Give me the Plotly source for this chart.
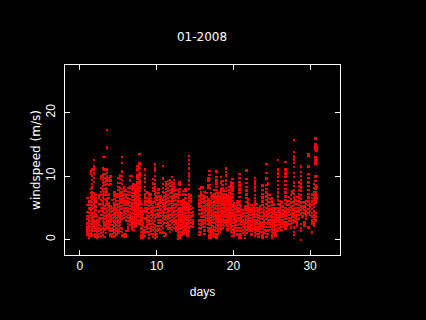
import plotly.graph_objects as go

title_text = "01-2008"
x_label = "days"
y_label = "windspeed (m/s)"
x_ticks = [0, 10, 20, 30]
y_ticks = [0, 10, 20]

# Column day positions and the wind speeds read in each column, one block per stretch of the month
days_a = [1.0,1.2,1.4,1.6,1.8,2.0,2.25,2.5,2.75,3.0,3.2,3.4,3.55,3.75,4.0,4.25,4.5,4.75,5.0,5.25,5.5,5.75,6.0,6.25,6.5,6.75,7.0,7.25,7.5,7.75,8.0]
vals_a = [
[0.7,1.1,1.6,2.0,2.5,3.2,3.7,4.3,5.4,6.5],
[0.3,0.8,1.3,1.7,2.1,2.7,3.1,3.6,4.2,4.9,5.4,6.0],
[0.6,1.0,1.5,2.0,2.4,2.9,3.4,3.9,4.4,4.9,5.4,6.0,6.6,7.3,8.0,10.3,10.7],
[0.5,0.9,1.4,1.9,2.4,2.8,3.3,3.8,4.2,4.8,5.3,5.9,6.4,6.9,7.4,8.2,8.7,9.4,10.0,11.0],
[0.7,1.3,1.8,2.2,2.7,3.1,3.6,4.3,5.0,5.6,6.2,6.7,7.3,9.1,9.7,10.4,11.0,11.5,12.5],
[0.4,0.8,1.3,1.9,2.4,2.9,3.5,4.0,4.6,5.2,6.0,6.5,7.0],
[0.3,0.7,1.2,1.7,2.1,2.6,3.1,3.6],
[0.4,0.9,1.3,1.8,2.3,2.8,3.3,4.4,5.6,6.6,7.0],
[0.5,1.0,1.6,2.1,3.3,3.9,4.5,5.0,5.6,6.2,7.0,7.5,8.1,9.6,9.9],
[0.7,1.2,1.7,2.9,3.4,3.9,4.4,4.9,5.5,6.0,6.6,7.2,7.6,8.0,8.4,8.9,9.4,9.9,10.3,11.2,13.0],
[0.4,1.6,2.2,2.7,3.2,3.7,4.2,4.8,5.3,6.4,7.0,7.5,8.0,8.6,9.1,9.7,10.3,11.0,13.0],
[1.0,1.7,2.2,2.7,3.2,3.7,4.2,4.7,5.6,6.2,7.1,7.6,8.1,8.6,9.2,9.7],
[1.9,2.4,2.9,3.4,3.9,4.4,5.0,5.5,6.0,6.5,7.0,7.5,8.0,8.7,9.3,9.9,10.5,11.0,14.5,17.3],
[1.6,2.0,2.5,3.0,3.5,4.0,4.6,5.2,5.7,6.5,7.1,8.6,9.2,9.7],
[0.5,0.9,1.3,1.8,2.3,2.8,3.3,3.8,4.3,4.8,5.3,8.7,9.3,9.9],
[0.4,0.9,1.3,1.8,2.3,2.9,3.4,3.9,4.5,5.0,6.2],
[0.5,1.0,1.5,2.1,2.6,3.1,3.6,4.1,4.7,5.2,5.7,6.4,6.9,7.4],
[0.8,1.3,1.8,2.3,2.8,3.4,3.9,4.4,4.9,5.5,6.1,6.7,7.1],
[1.1,1.6,2.1,2.6,3.1,3.6,4.1,4.6,5.1,5.6,6.1,6.7,7.2,7.8,8.3,8.9,9.7],
[1.3,1.8,2.3,2.8,3.3,3.8,4.3,4.8,5.3,5.8,6.3,6.9,7.4,8.1,8.9,9.5,10.1],
[0.6,1.2,1.7,3.2,3.7,4.2,4.8,5.3,5.8,6.3,6.9,7.4,8.0,8.7,9.4,10.0,10.7,12.1,13.0],
[0.4,0.8,3.4,3.9,4.4,5.0,5.5,6.0,6.5,7.1,7.6,8.2],
[0.4,0.8,1.3,3.0,3.5,4.0,4.5,5.0,5.5,6.0,6.6,7.1,7.7],
[1.4,1.9,2.4,2.9,3.4,3.9,4.4,4.9,5.5,6.0,6.5,7.0,7.5,8.1],
[2.3,2.8,3.3,3.8,4.3,4.8,5.3,5.9,6.4,7.0,7.5,8.2,9.3,10.0],
[1.7,2.2,2.7,3.2,3.7,4.2,4.7,5.2,5.7,6.2,6.8,7.3,7.9,8.4,10.0],
[1.5,2.0,2.5,3.0,3.5,4.0,4.6,5.1,5.7,6.2,6.8,7.3,8.2,8.7],
[2.2,2.7,3.2,3.8,4.3,4.8,5.3,5.8,6.4,6.9,7.4,7.9,8.5],
[2.6,3.1,3.6,4.1,4.7,5.2,5.7,6.2,6.8,7.3,7.9,8.4,9.0,9.6,10.1,11.6,11.0],
[2.5,3.0,3.5,4.0,4.5,5.0,5.5,6.0,6.5,7.0,7.6,8.2,8.8,9.3,9.9,10.4,11.3,12.0,13.5],
[0.3,0.7,1.2,1.7,2.3,2.8,3.3,3.8,4.4,5.0,5.6],
]

days_b = [8.25,8.5,8.75,9.0,9.25,9.5,9.8,10.0,10.25,10.5,10.8,11.0,11.25,11.5,11.75,12.0,12.25,12.5,12.75,13.0,13.25,13.5,13.75,14.0,14.25,14.5,14.7]
vals_b = [
[0.2,0.6,1.1,1.5,2.1,2.6,3.4,4.0,4.5],
[0.5,1.0,1.4,2.0,3.3,4.4,5.0,5.5,6.0,6.6,7.1,7.7,8.3,9.1,9.6,10.2,11.0],
[1.2,1.7,2.2,2.8,3.3,3.8,4.4,4.9,5.4,6.0,6.5,7.4],
[0.2,0.7,1.2,1.8,2.5,3.0,3.6,4.2,4.8,5.3,5.8,6.3,6.9,7.3],
[0.9,1.4,1.9,2.4,2.9,3.4,3.9,4.4,5.0,5.5,6.0,6.5,7.1],
[0.4,0.9,1.5,2.0,2.5,3.1,3.6,4.1,4.7,5.2,5.8,7.6,8.1,8.8,9.5],
[0.2,0.7,1.2,1.7,2.3,2.9,3.4,3.9,4.5,5.1,6.0,6.5,7.1,7.7,8.2,8.7,9.4,10.0,10.8,11.2,11.8],
[0.4,0.9,1.4,2.1,3.5,4.0,4.6,5.1,5.6,6.3,6.8,7.3],
[1.6,2.1,2.6,3.1,3.6,4.1,4.6,5.2,5.7,6.2,6.8,7.3,7.9],
[1.0,1.5,2.1,2.6,3.1,3.7,4.2,4.7,5.3,5.8,6.3,6.8],
[1.1,1.8,2.3,2.9,3.4,3.9,4.4,5.1,5.7,6.3,7.5,8.1,8.7,9.6,11.6],
[0.5,1.0,2.6,3.2,3.7,4.2,4.7,5.2,5.7,6.2,6.8,7.3],
[0.8,2.1,2.6,3.1,3.6,4.2,4.8,5.3,5.8,6.4,6.9,7.5,8.0,8.5,9.0],
[1.7,2.2,2.7,3.3,3.8,4.4,4.9,5.4,6.0,6.5,7.0,7.6,8.1,8.7,9.2],
[1.2,1.7,2.3,2.9,3.4,3.9,4.5,5.0,5.6,6.1,6.7,7.3,7.8,8.4,8.9,9.4],
[1.5,2.0,2.6,3.1,3.6,4.1,4.7,5.2,5.8,6.3,6.8,7.4,7.9,8.5,9.1,9.8],
[1.8,2.3,2.8,3.3,3.9,4.4,5.0,5.5,6.1,6.6,7.1,7.7,8.2,8.8,9.4],
[1.4,1.9,2.5,3.0,3.5,4.0,4.5,5.1,5.6,6.2,6.7,7.2,7.8],
[0.1,0.5,1.0,1.5,2.1,2.6,3.1,3.7,4.2,4.7,5.4,6.0,6.6,7.2,7.8],
[0.3,0.7,1.2,1.7,2.3,2.8,3.3,3.8,4.4,4.9,7.0,7.5,8.0,8.6,9.0],
[0.7,1.2,1.7,2.2,2.8,3.3,3.8,4.3,4.9,5.4,6.0],
[0.9,1.4,2.0,2.5,3.0,3.5,4.1,4.6,5.1,5.7,6.2,7.1,7.6],
[1.1,1.6,2.1,2.6,3.2,3.7,4.2,4.7,5.3,5.8,6.5,7.0,7.7,8.0],
[0.6,1.0,1.5,2.0,2.5,3.1,3.6,4.2,4.7,5.2,5.7],
[1.3,1.9,2.4,2.9,3.4,3.9,4.4,4.9,5.5,6.1,6.6,7.2,8.0,8.6,9.3,9.9,10.4,11.2,11.9,12.5,13.2],
[2.1,2.6,3.1,3.6,4.2,4.8,5.3,5.9,6.3,6.9],
[2.0,2.5,3.0,3.8,4.3,5.0],
]

days_c = [15.6,15.8,16.0,16.25,16.5,16.75,16.9,17.1,17.3,17.55,17.8,18.0,18.2,18.4,18.6,18.8,19.0,19.25,19.5,19.7,19.9,20.1,20.3,20.55,20.8,21.0,21.25,21.5,21.7,21.9,22.1,22.35,22.6,22.8]
vals_c = [
[0.7,1.2,1.8,2.4,3.0,4.0,4.6,5.2,5.7,6.2,6.8,8.0],
[1.1,1.7,2.3,2.9,3.5,4.0,4.6,5.2,5.8,6.3,6.9,7.4,8.3],
[2.0,2.5,3.0,3.5,4.1,4.7,5.3,5.9,6.4,6.9,8.2],
[0.9,1.4,2.0,2.6,3.1,3.6,4.2,4.7,5.3,5.8,6.3,6.8,7.5],
[2.4,2.9,3.4,3.9,4.5,5.0,5.5,6.1,6.7,7.3],
[1.3,1.8,2.4,3.0,3.5,4.1,4.6,5.2,5.8,6.3,8.2,8.6,9.3,9.7],
[0.3,0.7,1.2,1.7,2.3,2.8,3.4,3.9,4.4,5.0,5.6,6.1,8.1,8.6,9.5,10.2,10.8],
[0.3,0.8,1.3,1.8,2.4,2.9,3.4,3.9,4.4,4.9,5.5,6.0,6.7,7.3],
[0.6,1.1,1.6,2.1,2.6,3.1,3.6,4.1,4.6,5.2,5.8,6.4,6.9],
[0.4,0.9,1.4,2.0,2.6,3.2,3.8,4.3,4.9,5.4,6.0,6.6,7.2,7.8],
[0.3,0.8,1.3,1.8,2.3,2.8,3.3,3.8,4.3,4.8,5.3,5.8,6.3,6.8,7.3,7.8,8.3,8.8,9.3,9.8,10.7],
[0.9,1.4,1.9,2.5,3.0,3.5,4.0,4.5,5.0,5.5,6.0,6.5,7.0],
[1.2,1.7,2.3,2.8,3.3,3.8,4.3,4.8,5.3,5.8,6.3,6.8,7.3],
[1.5,2.0,2.5,3.0,3.5,3.9,4.4,4.9,5.4,5.9,6.4,6.9,7.4,7.9,9.0,9.8],
[1.8,2.3,2.8,3.2,3.7,4.1,4.5,5.0,5.4,5.8,6.2,6.6,7.1,7.6,8.1,8.6,9.2],
[2.1,2.6,3.0,3.5,3.9,4.3,4.7,5.1,5.5,5.9,6.3,6.7,7.2,7.7],
[2.3,2.7,3.1,3.5,3.9,4.3,4.7,5.1,5.5,5.9,6.3,6.7,7.1,7.6,8.1,8.7,9.3,10.1,10.6,11.2],
[1.6,2.1,2.6,3.0,3.4,3.8,4.2,4.6,5.0,5.4,5.8,6.2,6.6,7.0],
[2.4,2.8,3.2,3.6,4.0,4.4,4.8,5.2,5.6,6.0,6.4,6.8,7.3,7.8,8.3],
[1.2,1.7,2.2,2.7,3.2,3.7,4.2,4.7,5.2,5.7,6.2,6.7,7.2,7.9,8.5,9.0],
[0.5,1.0,1.6,2.1,2.6,3.1,3.6,4.1,4.6,5.1,5.6,6.1,6.6,7.2,7.7,8.2,8.8,9.5],
[0.6,1.1,1.6,2.1,2.6,3.2,3.7,4.2,4.7,5.2,5.7],
[1.3,1.8,2.3,2.8,3.3,3.8,4.3,4.8,5.3],
[0.8,1.3,1.8,2.3,2.9,3.4,3.9,4.4,4.9,5.5,6.0],
[0.3,0.8,1.3,1.8,2.4,2.9,3.4,3.9,4.4,5.0,5.5,6.1,6.7,7.3,7.9,8.5,9.1,9.7,10.3],
[0.3,0.8,1.3,1.8,2.3,2.8,3.3,3.8,4.3,4.8,5.3],
[1.0,1.5,2.0,2.5,3.0,3.5,4.1,4.6],
[0.2,0.7,1.2,1.7,2.2,2.7,3.2,3.7,4.2,4.7,5.2],
[1.0,1.5,2.0,2.6,3.1,3.6,4.2,4.7,5.3,5.9,6.5,7.1,7.7,8.3,8.9,9.5,10.9],
[1.7,2.2,2.7,3.2,3.7,4.2,4.7,5.2,5.7,6.3],
[1.4,1.9,2.4,2.9,3.4,3.9,4.4,4.9],
[0.8,1.3,1.8,2.3,2.8,3.4,3.9,4.4,4.9,5.4],
[1.6,2.1,2.6,3.1,3.6,4.1,4.6,5.1],
[0.5,1.0,1.5,2.0,2.5,3.0,3.5,4.0,4.5,5.0,5.5,6.0,6.5,7.0,7.6,8.2,8.8,9.2,9.7],
]

days_d = [23.0,23.25,23.5,23.8,24.0,24.3,24.5,24.75,25.0,25.25,25.5,25.8,26.0,26.25,26.5,26.8,27.0,27.25,27.5,27.7,27.9,28.1,28.3,28.55,28.8,29.0,29.25,29.5,29.8,30.0,30.25,30.5,30.7,30.85]
vals_d = [
[0.9,1.4,1.9,2.5,3.0,3.5,4.0,4.5,5.0,5.6],
[0.4,0.9,1.4,1.9,2.4,2.9,3.4,3.9,4.4,4.9],
[1.2,1.7,2.2,2.7,3.2,3.7,4.2,4.7,5.2],
[0.3,0.7,1.2,1.7,2.2,2.7,3.2,3.7,4.3,4.8,5.4,6.0,6.6,7.2,7.8,8.5],
[1.0,1.5,2.0,2.5,3.0,3.6,4.1,4.6,5.1],
[0.4,0.9,1.4,2.0,2.6,3.2,3.8,4.4,5.0,5.6,6.2,6.8,7.4,8.0,8.6,9.6,10.5,11.9],
[0.9,1.4,2.0,2.5,3.0,3.6,4.1,4.7,5.3,5.9,6.5,7.1,8.7,8.9],
[1.5,2.0,2.5,3.1,3.6,4.2,4.7,5.3,5.9,6.4,7.0],
[0.3,0.7,1.2,1.7,2.3,2.8,3.3,3.8,4.3,4.9,5.4,6.0,6.5],
[1.0,1.5,2.0,2.5,3.0,3.5,4.0,4.5,5.0,5.5],
[0.6,1.1,1.6,2.2,2.8,3.3,3.8,4.3,4.9],
[1.3,1.8,2.3,2.9,3.4,3.9,4.4,5.0,5.6,6.2,6.8,7.4,8.0,8.6,9.2,9.8,10.4,11.0,12.5],
[1.8,2.3,2.8,3.3,3.8,4.4,4.9,5.5,6.1],
[1.5,2.0,2.5,3.1,3.6,4.1,4.6,5.2,5.8],
[2.0,2.5,3.0,3.5,4.0,4.6,5.2],
[1.7,2.2,2.7,3.2,3.8,4.4,5.0,5.6,6.2,6.8,7.4,8.0,8.6,9.2,9.8,10.4,11.0,12.2],
[2.2,2.7,3.2,3.7,4.2,4.8,5.4,6.0],
[2.4,2.9,3.4,3.9,4.4,4.9,5.5,6.1,6.7],
[1.9,2.4,2.9,3.4,4.0,4.6,5.2,5.8,6.4,7.0],
[2.6,3.1,3.6,4.1,4.7,5.3,5.9,7.3,7.6],
[0.7,1.2,1.9,3.0,3.6,4.2,4.8,5.4,6.0,6.6,7.2,7.8,8.4,9.0,9.8,10.5,11.4,12.1,12.6,13.1,13.8,15.7],
[2.8,3.4,3.9,4.4,5.0,5.6,6.2],
[2.2,2.7,3.2,3.8,4.4,5.0,5.6,6.1,6.7],
[3.3,3.9,4.4,4.9,5.4,6.0,6.6,7.2,7.8,8.4,9.0],
[-0.1,1.3,1.8,2.4,4.0,4.6,5.2,5.8,6.4,7.0,7.6,8.2,8.8,9.4,10.0,10.6,11.5],
[3.6,4.2,4.8,5.3,5.9],
[2.2,2.7,4.1,4.6,5.2,5.8],
[3.2,3.8,4.4,5.0,5.6,6.1],
[1.9,4.2,4.8,5.4,6.0,6.6,7.2,7.8,8.4,9.0,9.7,10.3,11.5,13.2,13.4],
[3.9,4.5,5.1,5.6],
[1.1,2.5,3.0,3.6,4.2,4.8,5.4,6.0,6.5,7.1],
[2.2,2.7,3.3,3.9,4.5,5.1,5.7,6.3,6.9,7.5,8.1,8.7],
[3.0,3.6,4.2,5.8,6.2,6.8,7.4,8.0,8.6,9.2,9.9,12.0,12.3,12.7,13.0,14.2,14.6,15.0,15.9],
[6.5,7.0,8.3,10.0,12.5,14.0,14.5],
]

xs, ys = [], []
for days, vals in [(days_a, vals_a), (days_b, vals_b), (days_c, vals_c), (days_d, vals_d)]:
    for d, col in zip(days, vals):
        for v in col:
            xs.append(d)
            ys.append(v)

font = dict(family="Liberation Sans", size=12, color="white")
wide_font = dict(family="DejaVu Sans", size=12, color="white")
fig = go.Figure(go.Scatter(x=xs, y=ys, mode="markers",
                           marker=dict(symbol="square", size=2.4, color="#ff0000", line=dict(width=0)),
                           showlegend=False))
axis = dict(showline=True, mirror="ticks", linecolor="white", linewidth=1, ticks="inside", ticklen=5,
            tickcolor="white", tickwidth=1, showgrid=False, zeroline=False, tickfont=font)
fig.update_layout(
    width=426, height=320, autosize=False, paper_bgcolor="black", plot_bgcolor="black",
    margin=dict(l=65, r=86, t=65, b=65, pad=0), font=font, showlegend=False,
    title=dict(text=title_text, x=202/426, xanchor="center", y=1-37/320, yanchor="middle", font=wide_font),
    xaxis=dict(axis, range=[-1.95, 33.9], tickvals=x_ticks, ticktext=[str(t) for t in x_ticks], ticklabelstandoff=0,
               title=dict(text=x_label, font=font, standoff=15)),
    yaxis=dict(axis, range=[-2.45, 27.5], tickvals=y_ticks, ticktext=[str(t) for t in y_ticks], tickangle=-90, ticklabelstandoff=4,
               title=dict(text=y_label, font=wide_font, standoff=1)),
)
fig.write_html("out.html", config={"displayModeBar": False},
               post_script="document.body.style.margin='0';document.body.style.background='#000';document.documentElement.style.overflow='hidden';document.querySelectorAll('.point').forEach(function(p){p.style.shapeRendering='crispEdges';});")
